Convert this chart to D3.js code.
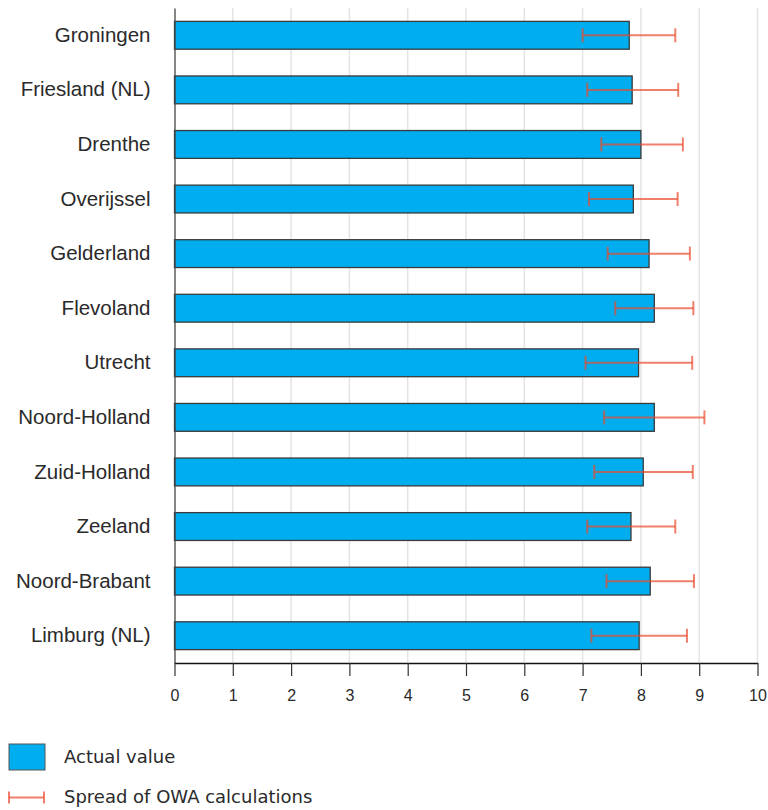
<!DOCTYPE html>
<html>
<head>
<meta charset="utf-8">
<script src="https://cdn.jsdelivr.net/npm/d3@7"></script>
<style>
  html, body { margin: 0; padding: 0; background: #fff; }
  svg { display: block; font-family: "DejaVu Sans", "Open Sans", sans-serif; }
</style>
</head>
<body>
<svg id="chart" width="768" height="810"></svg>
<script>
const categories = ["Groningen", "Friesland (NL)", "Drenthe", "Overijssel", "Gelderland", "Flevoland",
  "Utrecht", "Noord-Holland", "Zuid-Holland", "Zeeland", "Noord-Brabant", "Limburg (NL)"];
const actualValues = [7.80, 7.85, 8.00, 7.87, 8.14, 8.23, 7.96, 8.23, 8.04, 7.83, 8.16, 7.97];
const spreadLow  = [7.00, 7.08, 7.32, 7.11, 7.43, 7.56, 7.05, 7.37, 7.20, 7.08, 7.41, 7.15];
const spreadHigh = [8.59, 8.64, 8.72, 8.63, 8.84, 8.90, 8.88, 9.09, 8.89, 8.59, 8.91, 8.79];
const xTicks = [0, 1, 2, 3, 4, 5, 6, 7, 8, 9, 10];
const legendLabels = ["Actual value", "Spread of OWA calculations"];

const barColor = "#00aeef";
const errColor = "#ea4a2e";

const svg = d3.select("#chart");
const margin = { left: 174.5, right: 10.5, top: 8, bottom: 147 };
const W = 768, H = 810;

const x = d3.scaleLinear().domain([0, 10]).range([margin.left, W - margin.right]);
const y = d3.scaleBand().domain(categories).range([margin.top, H - margin.bottom]).paddingInner(0.49).paddingOuter(0.245);

const rows = categories.map((c, i) => ({ c, v: actualValues[i], lo: spreadLow[i], hi: spreadHigh[i] }));

// gridlines
svg.append("g").selectAll("line").data(xTicks.slice(1)).join("line")
  .attr("x1", d => x(d)).attr("x2", d => x(d))
  .attr("y1", margin.top).attr("y2", H - margin.bottom)
  .attr("stroke", "#e4e4e4").attr("stroke-width", 1.5);

// bars
svg.append("g").selectAll("rect").data(rows).join("rect")
  .attr("x", x(0)).attr("y", d => y(d.c))
  .attr("width", d => x(d.v) - x(0)).attr("height", y.bandwidth())
  .attr("fill", barColor).attr("stroke", "#3a3a3a").attr("stroke-width", 1.3);

// error bars
const eg = svg.append("g").attr("stroke", errColor).attr("stroke-opacity", 0.7).attr("stroke-width", 2);
rows.forEach(d => {
  const cy = y(d.c) + y.bandwidth() / 2;
  eg.append("line").attr("x1", x(d.lo)).attr("x2", x(d.hi)).attr("y1", cy).attr("y2", cy);
  eg.append("line").attr("x1", x(d.lo)).attr("x2", x(d.lo)).attr("y1", cy - 7).attr("y2", cy + 7);
  eg.append("line").attr("x1", x(d.hi)).attr("x2", x(d.hi)).attr("y1", cy - 7).attr("y2", cy + 7);
});

// y axis
const yAxis = svg.append("g").attr("transform", `translate(${x(0)},0)`)
  .call(d3.axisLeft(y).tickSize(0).tickPadding(24));
yAxis.select(".domain").attr("stroke", "#444").attr("stroke-width", 1.3);
yAxis.selectAll("text").attr("font-size", 20.5).attr("fill", "#2a2a2a");

// x axis
const xAxis = svg.append("g").attr("transform", `translate(0,${H - margin.bottom})`)
  .call(d3.axisBottom(x).tickValues(xTicks).tickSize(13).tickPadding(14).tickSizeOuter(0));
xAxis.select(".domain").attr("stroke", "#111").attr("stroke-width", 1.5);
xAxis.selectAll(".tick line").attr("stroke", "#333").attr("stroke-width", 1.2);
xAxis.selectAll("text").attr("font-size", 16).attr("fill", "#2a2a2a");

// legend
const lg = svg.append("g");
lg.append("rect").attr("x", 9).attr("y", 744).attr("width", 36).attr("height", 26)
  .attr("fill", barColor).attr("stroke", "#555").attr("stroke-width", 1);
lg.append("text").attr("x", 64).attr("y", 757).attr("dy", "0.35em").attr("font-size", 18).attr("fill", "#2a2a2a").text(legendLabels[0]);
const le = lg.append("g").attr("stroke", errColor).attr("stroke-opacity", 0.7).attr("stroke-width", 2);
le.append("line").attr("x1", 9).attr("x2", 44).attr("y1", 797.5).attr("y2", 797.5);
le.append("line").attr("x1", 9).attr("x2", 9).attr("y1", 791.5).attr("y2", 803.5);
le.append("line").attr("x1", 44).attr("x2", 44).attr("y1", 791.5).attr("y2", 803.5);
lg.append("text").attr("x", 64).attr("y", 797).attr("dy", "0.35em").attr("font-size", 18).attr("fill", "#2a2a2a").text(legendLabels[1]);
</script>
</body>
</html>
